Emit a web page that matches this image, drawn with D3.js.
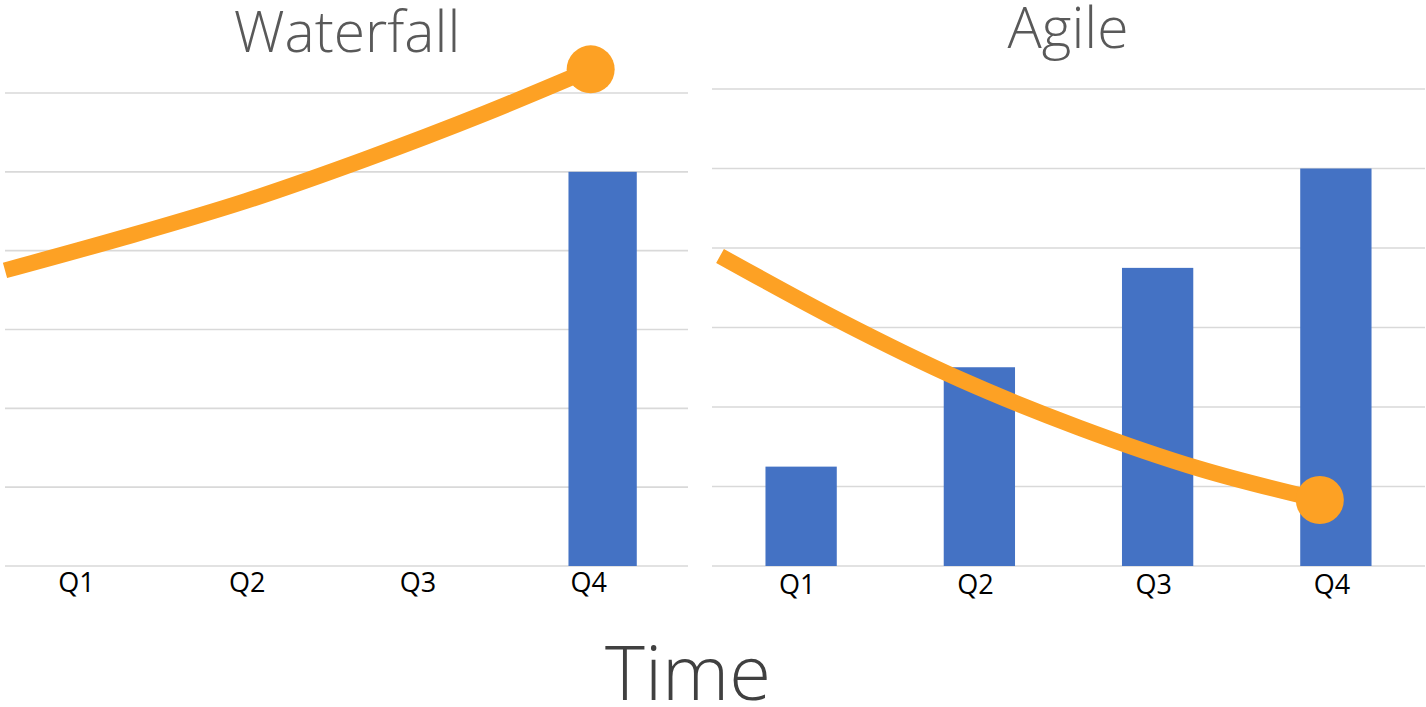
<!DOCTYPE html>
<html>
<head>
<meta charset="utf-8">
<script src="https://cdn.jsdelivr.net/npm/d3@7"></script>
<style>
  html, body { margin: 0; padding: 0; background: #ffffff; }
  svg { display: block; }
</style>
</head>
<body>
<svg id="chart" width="1426" height="707"></svg>
<script>
// Quarter categories shared by both panels
const quarters = ["Q1", "Q2", "Q3", "Q4"];

// Delivered value per quarter (bars)
const waterfallBars = [0, 0, 0, 5];
const agileBars = [1.25, 2.5, 3.75, 5];

// Gridline levels
const gridLevels = [0, 1, 2, 3, 4, 5, 6];

// Trend curves: [time in quarters from start, level]
const waterfallCurve = [
  [0.00, 3.75], [0.70, 4.17], [1.41, 4.63],
  [2.11, 5.16], [2.81, 5.74], [3.43, 6.30]
];
const agileCurve = [
  [0.045, 3.90], [0.72, 3.08], [1.39, 2.35],
  [2.06, 1.74], [2.74, 1.22], [3.41, 0.83]
];

const titles = ["Waterfall", "Agile"];
const axisTitle = "Time";

const BAR_COLOR = "#4472C4";
const LINE_COLOR = "#FDA124";
const GRID_COLOR = "#d9d9d9";

const svg = d3.select("#chart");

const panels = [
  { title: titles[0], bars: waterfallBars, curve: waterfallCurve,
    left: 5, right: 688, top: 93, bottom: 566, titleX: 347, titleY: 52, labelDx: -14, labelY: 592 },
  { title: titles[1], bars: agileBars, curve: agileCurve,
    left: 712, right: 1425, top: 89, bottom: 566, titleX: 1068, titleY: 48, labelDx: -4, labelY: 594 }
];

panels.forEach(p => {
  const g = svg.append("g");

  const y = d3.scaleLinear().domain([0, 6]).range([p.bottom, p.top]);
  const xBand = d3.scaleBand().domain(quarters).range([p.left, p.right])
    .paddingInner(0.6).paddingOuter(0.3);
  const xTime = d3.scaleLinear().domain([0, 4]).range([p.left, p.right]);

  // horizontal gridlines
  g.append("g").selectAll("line").data(gridLevels).join("line")
    .attr("x1", p.left).attr("x2", p.right)
    .attr("y1", d => y(d)).attr("y2", d => y(d))
    .attr("stroke", GRID_COLOR).attr("stroke-width", 1.6);

  // bars
  g.append("g").selectAll("rect").data(quarters.map((q, i) => ({ q, v: p.bars[i] })).filter(d => d.v > 0))
    .join("rect")
    .attr("x", d => xBand(d.q))
    .attr("width", xBand.bandwidth())
    .attr("y", d => y(d.v))
    .attr("height", d => y(0) - y(d.v))
    .attr("fill", BAR_COLOR);

  // category labels
  const axis = d3.axisBottom(xBand).tickSize(0).tickPadding(0);
  const ax = g.append("g").attr("transform", `translate(0,${p.labelY})`).call(axis);
  ax.select(".domain").remove();
  ax.selectAll("text")
    .attr("dy", 0).attr("y", 0).attr("dx", p.labelDx)
    .attr("fill", "#000")
    .style("font-family", "'Open Sans', 'Noto Sans', sans-serif")
    .style("font-size", "27px");

  // trend curve with end marker
  const line = d3.line()
    .x(d => xTime(d[0])).y(d => y(d[1]))
    .curve(d3.curveMonotoneX);
  g.append("path").datum(p.curve)
    .attr("d", line)
    .attr("fill", "none")
    .attr("stroke", LINE_COLOR)
    .attr("stroke-width", 16)
    .attr("stroke-linecap", "butt");
  const last = p.curve[p.curve.length - 1];
  g.append("circle")
    .attr("cx", xTime(last[0])).attr("cy", y(last[1]))
    .attr("r", 24).attr("fill", LINE_COLOR);

  // panel title
  g.append("text")
    .attr("x", p.titleX).attr("y", p.titleY)
    .attr("text-anchor", "middle")
    .attr("fill", "#595959")
    .style("font-family", "'Open Sans', 'Noto Sans', sans-serif")
    .style("font-weight", 300)
    .style("font-size", "57px")
    .text(p.title);
});

// shared axis title
svg.append("text")
  .attr("x", 688).attr("y", 700)
  .attr("text-anchor", "middle")
  .attr("fill", "#404040")
  .style("font-family", "'Open Sans', 'Noto Sans', sans-serif")
  .style("font-weight", 300)
  .style("font-size", "76px")
  .text(axisTitle);
</script>
</body>
</html>
